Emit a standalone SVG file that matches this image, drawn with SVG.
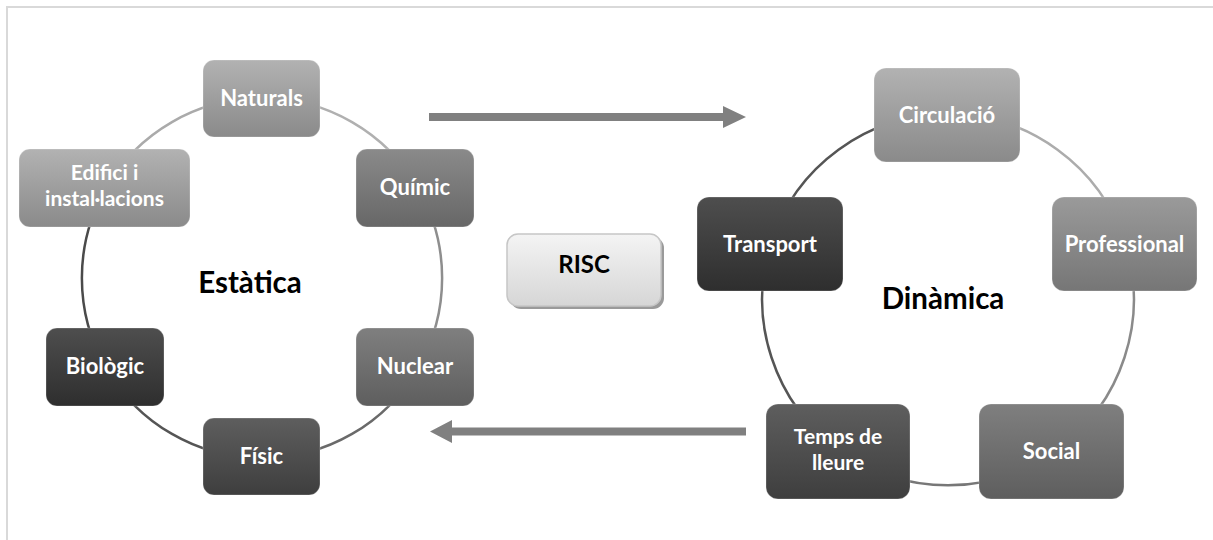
<svg xmlns="http://www.w3.org/2000/svg" width="1213" height="540" viewBox="0 0 1213 540">
<defs>
<style>
.lbl{font-family:Lato,"Liberation Sans",sans-serif;font-weight:bold;font-size:22px;fill:#ffffff;text-anchor:middle}
.lbl2{font-size:21px}
.big{font-family:Lato,"Liberation Sans",sans-serif;font-weight:bold;font-size:29.5px;fill:#000000;text-anchor:middle}
.arc{fill:none;stroke-width:2.5}
.node{stroke:#ffffff;stroke-opacity:0.25;stroke-width:1}
.arrow{fill:#808080}
</style>
<linearGradient id="g1" x1="0" y1="0" x2="0" y2="1"><stop offset="0" stop-color="#b2b2b2"/><stop offset="1" stop-color="#8a8a8a"/></linearGradient>
<linearGradient id="g2" x1="0" y1="0" x2="0" y2="1"><stop offset="0" stop-color="#9a9a9a"/><stop offset="1" stop-color="#767676"/></linearGradient>
<linearGradient id="g3" x1="0" y1="0" x2="0" y2="1"><stop offset="0" stop-color="#8a8a8a"/><stop offset="1" stop-color="#676767"/></linearGradient>
<linearGradient id="g4" x1="0" y1="0" x2="0" y2="1"><stop offset="0" stop-color="#7f7f7f"/><stop offset="1" stop-color="#5e5e5e"/></linearGradient>
<linearGradient id="g5" x1="0" y1="0" x2="0" y2="1"><stop offset="0" stop-color="#5e5e5e"/><stop offset="1" stop-color="#3e3e3e"/></linearGradient>
<linearGradient id="g6" x1="0" y1="0" x2="0" y2="1"><stop offset="0" stop-color="#4e4e4e"/><stop offset="1" stop-color="#2e2e2e"/></linearGradient>
<linearGradient id="gr" x1="0" y1="0" x2="0" y2="1"><stop offset="0" stop-color="#f4f4f4"/><stop offset="1" stop-color="#d6d6d6"/></linearGradient>
</defs>
<rect x="7" y="7" width="1230" height="560" fill="#ffffff" stroke="#d9d9d9" stroke-width="2"/>

<g id="connectors">
<path class="arc" stroke="#b0b0b0" d="M262 98 A180 180 0 0 1 418 188"/>
<path class="arc" stroke="#8e8e8e" d="M418 188 A180 180 0 0 1 418 368"/>
<path class="arc" stroke="#6a6a6a" d="M418 368 A180 180 0 0 1 262 458"/>
<path class="arc" stroke="#555555" d="M262 458 A180 180 0 0 1 106 368"/>
<path class="arc" stroke="#4a4a4a" d="M106 368 A180 180 0 0 1 106 188"/>
<path class="arc" stroke="#aaaaaa" d="M106 188 A180 180 0 0 1 262 98"/>
<path class="arc" stroke="#acacac" d="M948 114 A186 186 0 0 1 1125 243"/>
<path class="arc" stroke="#8a8a8a" d="M1125 243 A186 186 0 0 1 1057 450"/>
<path class="arc" stroke="#777777" d="M1057 450 A186 186 0 0 1 839 450"/>
<path class="arc" stroke="#555555" d="M839 450 A186 186 0 0 1 771 243"/>
<path class="arc" stroke="#555555" d="M771 243 A186 186 0 0 1 948 114"/>
<polygon class="arrow" points="429,113 723,113 723,106 746,117 723,128 723,121 429,121"/>
<polygon class="arrow" points="746,427.5 452,427.5 452,420 430,431.5 452,443 452,435.5 746,435.5"/>
</g>

<g id="n-naturals"><rect class="node" x="203" y="60" width="117" height="77" rx="11" fill="url(#g1)"/><text class="lbl" x="261.5" y="106">Naturals</text></g>
<g id="n-edifici"><rect class="node" x="19" y="149" width="171" height="78" rx="11" fill="url(#g1)"/><text class="lbl lbl2" x="104.5" y="180">Edifici i</text><text class="lbl lbl2" x="104.5" y="206">instal·lacions</text></g>
<g id="n-quimic"><rect class="node" x="356" y="149" width="118" height="78" rx="11" fill="url(#g3)"/><text class="lbl" x="415" y="195">Químic</text></g>
<g id="n-biologic"><rect class="node" x="46" y="328" width="118" height="78" rx="11" fill="url(#g6)"/><text class="lbl" x="105" y="374">Biològic</text></g>
<g id="n-nuclear"><rect class="node" x="356" y="328" width="118" height="78" rx="11" fill="url(#g4)"/><text class="lbl" x="415" y="374">Nuclear</text></g>
<g id="n-fisic"><rect class="node" x="203" y="418" width="117" height="77" rx="11" fill="url(#g5)"/><text class="lbl" x="261.5" y="464">Físic</text></g>
<g id="n-estatica"><text class="big" x="250" y="293">Estàtica</text></g>

<g id="n-risc"><rect x="510" y="237" width="154" height="72" rx="11" fill="#9a9a9a"/><rect x="507" y="234" width="154" height="72" rx="11" fill="url(#gr)" stroke="#c6c6c6" stroke-width="1.5"/><text class="big" style="font-size:24px" x="584" y="273">RISC</text></g>

<g id="n-circulacio"><rect class="node" x="874" y="68" width="146" height="94" rx="12" fill="url(#g1)"/><text class="lbl" x="947" y="123">Circulació</text></g>
<g id="n-transport"><rect class="node" x="697" y="197" width="146" height="94" rx="12" fill="url(#g6)"/><text class="lbl" x="770" y="252">Transport</text></g>
<g id="n-professional"><rect class="node" x="1052" y="197" width="145" height="94" rx="12" fill="url(#g2)"/><text class="lbl" x="1124.5" y="252">Professional</text></g>
<g id="n-temps"><rect class="node" x="766" y="404" width="144" height="95" rx="12" fill="url(#g5)"/><text class="lbl lbl2" x="838" y="444">Temps de</text><text class="lbl lbl2" x="838" y="470">lleure</text></g>
<g id="n-social"><rect class="node" x="979" y="404" width="145" height="95" rx="12" fill="url(#g4)"/><text class="lbl" x="1051.5" y="459">Social</text></g>
<g id="n-dinamica"><text class="big" x="943" y="309">Dinàmica</text></g>
</svg>
